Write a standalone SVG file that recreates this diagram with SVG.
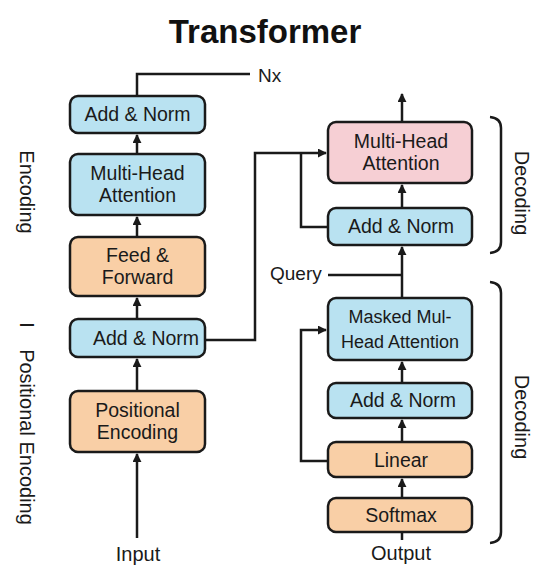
<svg xmlns="http://www.w3.org/2000/svg" width="550" height="587" viewBox="0 0 550 587">
<defs>
<style>
.box{stroke:#1a1a1a;stroke-width:2.5}
.blue{fill:#b9e2f1}
.pink{fill:#f6cfd4}
.orange{fill:#f9cfa6}
.t{font-family:"Liberation Sans",Arial,sans-serif;font-size:19.5px;fill:#1a1a1a;text-anchor:middle}
.s{font-size:18px}
.lab{font-family:"Liberation Sans",Arial,sans-serif;font-size:19px;fill:#1a1a1a}
.side{font-family:"Liberation Sans",Arial,sans-serif;font-size:20px;fill:#1a1a1a;text-anchor:middle}
.c{fill:none;stroke:#1a1a1a;stroke-width:2.5}
</style>
<marker id="ah" viewBox="0 0 10 10" refX="9" refY="5" markerWidth="3.6" markerHeight="3.6" orient="auto" markerUnits="strokeWidth">
<path d="M0,0 L10,5 L0,10 z" fill="#1a1a1a"/>
</marker>
</defs>
<rect width="550" height="587" fill="#ffffff"/>
<text x="265" y="43" font-family="Liberation Sans,Arial,sans-serif" font-size="33" font-weight="bold" text-anchor="middle" fill="#111">Transformer</text>

<g id="connectors">
<path class="c" d="M137,538 V454" marker-end="url(#ah)"/>
<path class="c" d="M137,391 V359" marker-end="url(#ah)"/>
<path class="c" d="M137,319 V298" marker-end="url(#ah)"/>
<path class="c" d="M137,237 V217" marker-end="url(#ah)"/>
<path class="c" d="M137,154 V135" marker-end="url(#ah)"/>
<path class="c" d="M137,96 V74 H250"/>
<path class="c" d="M205,340 H255 V153 H326" marker-end="url(#ah)"/>
<path class="c" d="M328,227 H301 V153"/>
<path class="c" d="M402,208 V185" marker-end="url(#ah)"/>
<path class="c" d="M402,122 V94" marker-end="url(#ah)"/>
<path class="c" d="M402,298 V247" marker-end="url(#ah)"/>
<path class="c" d="M328,275 H402"/>
<path class="c" d="M402,383 V362" marker-end="url(#ah)"/>
<path class="c" d="M402,442 V420" marker-end="url(#ah)"/>
<path class="c" d="M402,498 V479" marker-end="url(#ah)"/>
<path class="c" d="M402,532 V540"/>
<path class="c" d="M328,461 H301 V330 H326" marker-end="url(#ah)"/>
<path class="c" d="M490,117 Q501,118 501,128 V242 Q501,252 490,253"/>
<path class="c" d="M490,282 Q501,283 501,293 V532 Q501,542 490,543"/>
</g>

<g id="enc-addnorm-top">
<rect class="box blue" x="70" y="96" width="135" height="37" rx="8"/>
<text class="t" x="137.5" y="121">Add &amp; Norm</text>
</g>
<g id="enc-mha">
<rect class="box blue" x="70" y="154" width="135" height="61" rx="8"/>
<text class="t" x="137.5" y="180">Multi-Head</text>
<text class="t" x="137.5" y="202">Attention</text>
</g>
<g id="enc-ff">
<rect class="box orange" x="70" y="237" width="135" height="59" rx="8"/>
<text class="t" x="137.5" y="262">Feed &amp;</text>
<text class="t" x="137.5" y="284">Forward</text>
</g>
<g id="enc-addnorm">
<rect class="box blue" x="70" y="319" width="135" height="38" rx="8"/>
<text class="t" x="146" y="345">Add &amp; Norm</text>
</g>
<g id="enc-pe">
<rect class="box orange" x="70" y="391" width="135" height="61" rx="8"/>
<text class="t" x="137.5" y="417">Positional</text>
<text class="t" x="137.5" y="439">Encoding</text>
</g>

<g id="dec-mha">
<rect class="box pink" x="328" y="122" width="144" height="61" rx="8"/>
<text class="t" x="401" y="148">Multi-Head</text>
<text class="t" x="401" y="170">Attention</text>
</g>
<g id="dec-addnorm-top">
<rect class="box blue" x="328" y="208" width="144" height="37" rx="8"/>
<text class="t" x="401" y="233">Add &amp; Norm</text>
</g>
<g id="dec-masked">
<rect class="box blue" x="328" y="298" width="144" height="62" rx="8"/>
<text class="t s" x="400" y="323">Masked Mul-</text>
<text class="t s" x="400" y="348">Head Attention</text>
</g>
<g id="dec-addnorm">
<rect class="box blue" x="328" y="383" width="144" height="35" rx="8"/>
<text class="t" x="403" y="407">Add &amp; Norm</text>
</g>
<g id="dec-linear">
<rect class="box orange" x="328" y="442" width="144" height="35" rx="8"/>
<text class="t" x="401" y="467">Linear</text>
</g>
<g id="dec-softmax">
<rect class="box orange" x="328" y="498" width="144" height="34" rx="8"/>
<text class="t" x="401" y="522">Softmax</text>
</g>

<g id="labels">
<text class="lab" x="258" y="82" font-size="18">Nx</text>
<text class="lab" x="270" y="280" font-size="18">Query</text>
<text class="side" x="138" y="561">Input</text>
<text class="side" x="401" y="560">Output</text>
<text class="side" transform="translate(20,192) rotate(90)">Encoding</text>
<text class="side" transform="translate(20,325) rotate(90)">I</text>
<text class="side" transform="translate(20,437) rotate(90)">Positional Encoding</text>
<text class="side" transform="translate(515,193) rotate(90)">Decoding</text>
<text class="side" transform="translate(515,417) rotate(90)">Decoding</text>
</g>
</svg>
